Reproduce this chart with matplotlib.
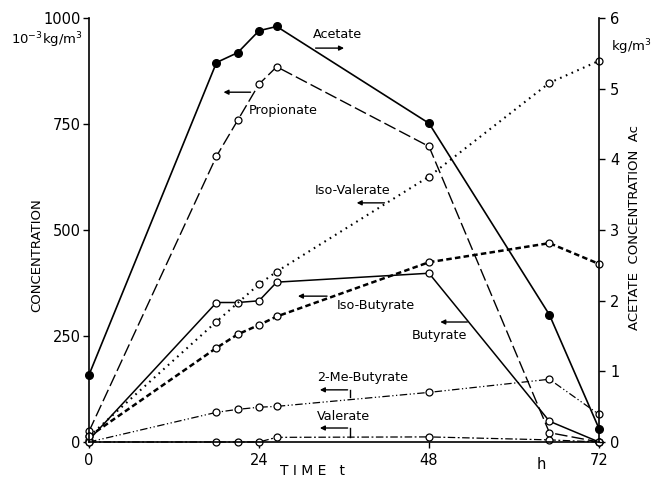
import matplotlib
matplotlib.use('Agg')
import matplotlib.pyplot as plt

# time axis (h)
t = [0, 18, 21, 24, 26.5, 48, 65, 72]
t_isoval = [0, 18, 24, 26.5, 48, 65, 72]

# acetate on the right axis (kg/m3)
acetate = [0.95, 5.37, 5.51, 5.82, 5.88, 4.51, 1.80, 0.19]

# other acids on the left axis (10^-3 kg/m3)
propionate = [25, 674, 759, 844, 885, 697, 22, 0]
butyrate = [5, 329, 329, 333, 377, 398, 49, 0]
iso_butyrate = [13, 222, 254, 276, 296, 424, 469, 420]
me_butyrate = [0, 70, 77, 82, 84, 117, 148, 65]
valerate = [0, 0, 0, 0, 11, 12, 5, 0]
iso_valerate = [13, 284, 372, 402, 626, 847, 899]

left_ticks = [0, 250, 500, 750, 1000]
right_ticks = [0, 1, 2, 3, 4, 5, 6]
x_ticks = [0, 24, 48, 72]

fig = plt.figure(figsize=(6.57, 4.82), dpi=100)
ax = fig.add_axes([89 / 657, 1 - 442 / 482, 510 / 657, 424 / 482])
ax2 = ax.twinx()

open_mk = dict(marker='o', markersize=5, markerfacecolor='white',
               markeredgecolor='black', markeredgewidth=0.9, color='black',
               clip_on=False)

ax.plot(t, propionate, lw=1.0, dashes=(9, 3), **open_mk)
ax.plot(t, butyrate, lw=1.1, ls='-', **open_mk)
ax.plot(t, iso_butyrate, lw=1.8, dashes=(2.2, 1.3), **open_mk)
ax.plot(t, me_butyrate, lw=0.9, dashes=(6, 2, 1, 2, 1, 2), **open_mk)
ax.plot(t, valerate, lw=0.9, dashes=(6, 2, 1.5, 2), **open_mk)
ax.plot(t_isoval, iso_valerate, lw=1.5, dashes=(0.8, 2.2), **open_mk)

ax2.plot(t, acetate, color='black', lw=1.2, marker='o', markersize=5.5,
         markerfacecolor='black', clip_on=False, zorder=5)

ax.set_xlim(0, 72)
ax.set_ylim(0, 1000)
ax2.set_ylim(0, 6)

ax.set_xticks(x_ticks)
ax.set_yticks(left_ticks)
ax2.set_yticks(right_ticks)
ax.tick_params(axis='both', direction='out', length=4, width=1, labelsize=10.5, pad=2)
ax.tick_params(axis='x', pad=4)
ax2.tick_params(axis='y', direction='out', length=4, width=1, labelsize=10.5, pad=4)

for s in ['top', 'right']:
    ax.spines[s].set_visible(False)
for s in ['top', 'left', 'bottom']:
    ax2.spines[s].set_visible(False)
for sp in [ax.spines['left'], ax.spines['bottom'], ax2.spines['right']]:
    sp.set_linewidth(1.2)

# unit label in place of a tick on the time axis
ax.text(63.8, -0.035, 'h', transform=ax.get_xaxis_transform(),
        ha='center', va='top', fontsize=10.5)

# curve names with arrows pointing to their axis
lab = dict(fontsize=9.2, va='center', ha='left')
arr = dict(arrowstyle='-|>', color='black', lw=1.0, mutation_scale=7)

ax.text(31.6, 960, 'Acetate', **lab)
ax.annotate('', xy=(36.4, 929), xytext=(31.6, 929), arrowprops=arr)

ax.text(22.6, 783, 'Propionate', **lab)
ax.annotate('', xy=(18.6, 825), xytext=(23.2, 825), arrowprops=arr)

ax.text(31.9, 592, 'Iso-Valerate', **lab)
ax.annotate('', xy=(37.4, 564), xytext=(42.1, 564), arrowprops=arr)

ax.text(35.0, 323, 'Iso-Butyrate', **lab)
ax.annotate('', xy=(29.1, 344), xytext=(34.0, 344), arrowprops=arr)

ax.text(45.5, 250, 'Butyrate', **lab)
ax.annotate('', xy=(49.2, 283), xytext=(53.8, 283), arrowprops=arr)

ax.text(32.2, 153, '2-Me-Butyrate', **lab)
ax.plot([36.9, 36.9], [106, 123], color='black', lw=1.0)
ax.annotate('', xy=(32.2, 123), xytext=(36.9, 123), arrowprops=arr)

ax.text(32.2, 59, 'Valerate', **lab)
ax.plot([36.9, 36.9], [12, 33], color='black', lw=1.0)
ax.annotate('', xy=(32.2, 33), xytext=(36.9, 33), arrowprops=arr)

# axis titles and units
fig.text(83 / 657, 1 - 40 / 482, r'10$^{-3}$kg/m$^3$', ha='right', va='center', fontsize=9.5)
fig.text(611 / 657, 1 - 47 / 482, r'kg/m$^3$', ha='left', va='center', fontsize=9.5)
fig.text(37 / 657, 1 - 255 / 482, 'CONCENTRATION', rotation=90,
         ha='center', va='center', fontsize=9.5)
fig.text(634 / 657, 1 - 228 / 482, 'ACETATE  CONCENTRATION  Ac', rotation=90,
         ha='center', va='center', fontsize=9.5)
fig.text(280 / 657, 1 - 471 / 482, 'T I M E   t', ha='left', va='center', fontsize=10)

fig.savefig('out.png', dpi=100)
